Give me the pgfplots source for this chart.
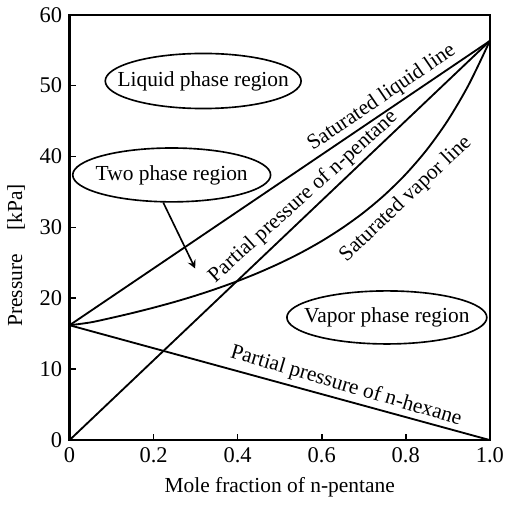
\documentclass[border=0pt]{standalone}
\usepackage{fontspec}
\setmainfont{Liberation Serif}
\usepackage{pgfplots}
\pgfplotsset{compat=1.18}

\begin{document}
\fontsize{10.5}{12}\selectfont
\begin{tikzpicture}
  \begin{axis}[
    scale only axis,
    width=206pt, height=208.5pt,
    xmin=0, xmax=1, ymin=0, ymax=60,
    xtick={0,0.2,0.4,0.6,0.8,1.0},
    xticklabels={0,0.2,0.4,0.6,0.8,1.0},
    ytick={0,10,...,60},
    tick align=inside,
    xtick pos=bottom, ytick pos=left,
    major tick length=3pt,
    axis line style={line width=1.1pt},
    tick style={line width=0.8pt, black},
    /pgf/number format/assume math mode=true,
    tick label style={font=\fontsize{11}{12}\selectfont},
    xlabel={Mole fraction of n-pentane},
    ylabel={Pressure\hspace{1.1em}[kPa]},
    ylabel style={at={(ticklabel cs:0.434)}},
    clip=false,
  ]
  % saturated liquid line
  \addplot[black, line width=0.9pt] coordinates {(0,16.2) (1,56.3)};
  % partial pressure of n-pentane
  \addplot[black, line width=0.9pt] coordinates {(0,0) (1,56.3)};
  % partial pressure of n-hexane
  \addplot[black, line width=0.9pt] coordinates {(0,16.2) (1,0)};
  % saturated vapor line
  \addplot[black, line width=0.9pt, smooth] coordinates {
    (0,16.2) (0.05,16.6) (0.1,17.24) (0.15,17.93) (0.2,18.68)
    (0.25,19.49) (0.3,20.38) (0.35,21.36) (0.4,22.43) (0.45,23.62)
    (0.5,24.94) (0.55,26.41) (0.6,28.07) (0.65,29.96) (0.7,32.11)
    (0.75,34.6) (0.8,37.51) (0.85,40.95) (0.9,45.09) (0.95,50.15) (1,56.3)};

  \draw[line width=0.8pt] (axis cs:0.318,50.65) ellipse [x radius=48pt, y radius=13.5pt];
  \node at (axis cs:0.318,50.65) {Liquid phase region};
  \draw[line width=0.8pt] (axis cs:0.243,37.4) ellipse [x radius=48.5pt, y radius=13.2pt];
  \node at (axis cs:0.243,37.4) {Two phase region};
  \draw[line width=0.8pt] (axis cs:0.755,17.3) ellipse [x radius=49pt, y radius=13pt];
  \node at (axis cs:0.755,17.3) {Vapor phase region};
  \draw[-stealth, line width=0.8pt] (axis cs:0.223,33.5) -- (axis cs:0.299,24.2);

  \node[rotate=34.3] at (axis cs:0.743,48.3) {Saturated liquid line};
  \node[rotate=42] at (axis cs:0.556,34.3) {Partial pressure of n-pentane};
  \node[rotate=43.4] at (axis cs:0.80,34.0) {Saturated vapor line};
  \node[rotate=-16.5] at (axis cs:0.658,7.6) {Partial pressure of n-hexane};
  \end{axis}
\end{tikzpicture}
\end{document}
